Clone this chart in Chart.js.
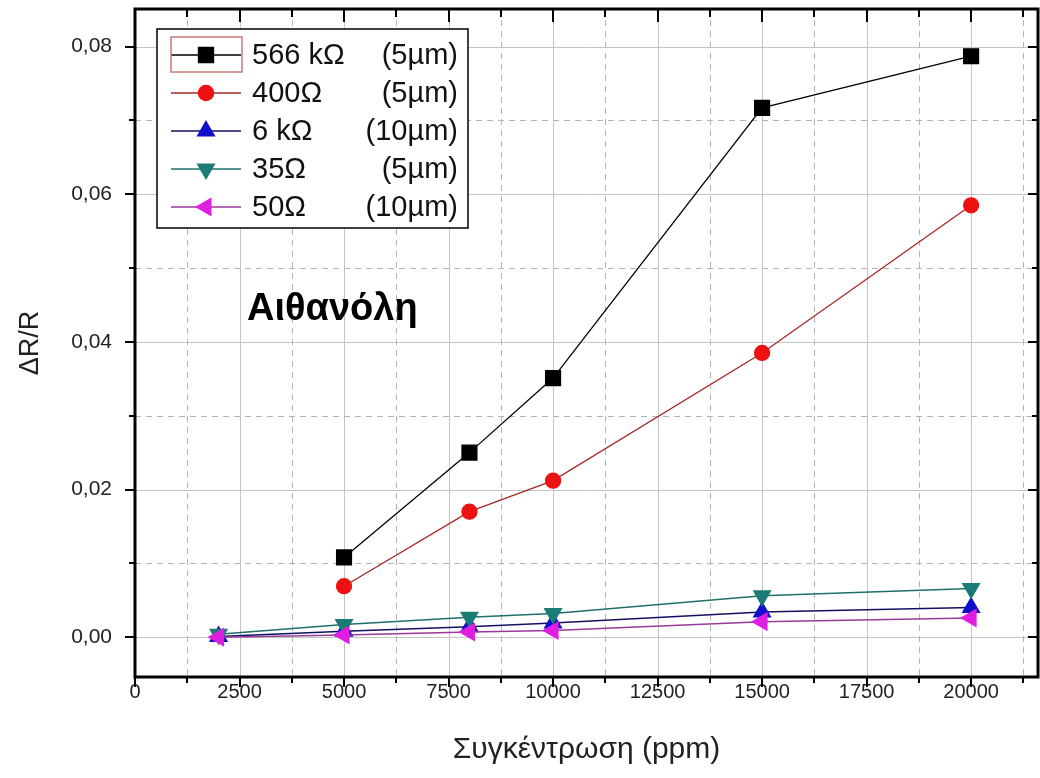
<!DOCTYPE html>
<html lang="el">
<head>
<meta charset="UTF-8">
<title>ΔR/R – Αιθανόλη</title>
<script src="https://cdn.jsdelivr.net/npm/chart.js"></script>
<style>
  html, body { margin: 0; padding: 0; background: #fff; }
</style>
</head>
<body>
<canvas id="sensorChart" width="1040" height="778"></canvas>
<script>
// concentration steps (ppm)
const concAll = [2000, 5000, 8000, 10000, 15000, 20000];
const concHigh = [5000, 8000, 10000, 15000, 20000];

// ΔR/R per sensor
const r566k = [0.0108, 0.0250, 0.0351, 0.0717, 0.0787];
const r400 = [0.0069, 0.0170, 0.0212, 0.0385, 0.0585];
const r6k = [0.0001, 0.0008, 0.0014, 0.0019, 0.0034, 0.0040];
const r35 = [0.0004, 0.0017, 0.0027, 0.0032, 0.0056, 0.0066];
const r50 = [0.0000, 0.0003, 0.0007, 0.0009, 0.0021, 0.0026];

const sensorNames = ['566 kΩ', '400Ω', '6 kΩ', '35Ω', '50Ω'];
const sensorWidths = ['(5µm)', '(5µm)', '(10µm)', '(5µm)', '(10µm)'];

// axis ticks
const xMajor = [0, 2500, 5000, 7500, 10000, 12500, 15000, 17500, 20000];
const xMinor = [1250, 3750, 6250, 8750, 11250, 13750, 16250, 18750, 21250];
const yMajor = [0, 0.02, 0.04, 0.06, 0.08];
const yMinor = [0.01, 0.03, 0.05, 0.07];

const FONT = "'Liberation Sans', Arial, sans-serif";

const pairs = (xs, ys) => xs.map((x, i) => ({ x: x, y: ys[i] }));
const asTicks = (a, b) => a.concat(b).sort((p, q) => p - q).map(v => ({ value: v }));

function pointStyleOf(ds) {
    return {
        pointStyle: ds.pointStyle,
        radius: ds.pointRadius,
        rotation: ds.pointRotation || 0,
        borderWidth: 1
    };
}

// keep the plot box where the layout padding puts it
function noLabelPadding(s) {
    s.paddingTop = 0;
    s.paddingBottom = 0;
    s.paddingLeft = 0;
    s.paddingRight = 0;
}

// grid behind the data: solid at major ticks, dashed at minor ticks
const gridPlugin = {
    id: 'gridPlugin',
    beforeDatasetsDraw(chart) {
        const { ctx, chartArea: a, scales: { x, y } } = chart;
        ctx.save();
        ctx.lineWidth = 1;
        ctx.strokeStyle = '#c4c4c4';
        ctx.setLineDash([]);
        xMajor.forEach(v => {
            const px = Math.round(x.getPixelForValue(v)) + 0.5;
            ctx.beginPath(); ctx.moveTo(px, a.top); ctx.lineTo(px, a.bottom); ctx.stroke();
        });
        yMajor.forEach(v => {
            const py = Math.round(y.getPixelForValue(v)) + 0.5;
            ctx.beginPath(); ctx.moveTo(a.left, py); ctx.lineTo(a.right, py); ctx.stroke();
        });
        ctx.strokeStyle = '#b4b4b4';
        ctx.setLineDash([6, 5]);
        xMinor.forEach(v => {
            const px = Math.round(x.getPixelForValue(v)) + 0.5;
            ctx.beginPath(); ctx.moveTo(px, a.top); ctx.lineTo(px, a.bottom); ctx.stroke();
        });
        yMinor.forEach(v => {
            const py = Math.round(y.getPixelForValue(v)) + 0.5;
            ctx.beginPath(); ctx.moveTo(a.left, py); ctx.lineTo(a.right, py); ctx.stroke();
        });
        ctx.restore();
    }
};

// frame, tick marks, legend box and the label inside the plot
const framePlugin = {
    id: 'framePlugin',
    afterDatasetsDraw(chart) {
        const { ctx, chartArea: a, scales: { x, y } } = chart;
        ctx.save();
        ctx.strokeStyle = '#000';
        ctx.lineWidth = 3;
        ctx.setLineDash([]);
        ctx.strokeRect(a.left, a.top, a.right - a.left, a.bottom - a.top);

        ctx.lineWidth = 2;
        const tick = (x1, y1, x2, y2) => {
            ctx.beginPath(); ctx.moveTo(x1, y1); ctx.lineTo(x2, y2); ctx.stroke();
        };
        xMajor.forEach(v => {
            const px = Math.round(x.getPixelForValue(v));
            tick(px, a.bottom, px, a.bottom + 10);
            tick(px, a.top, px, a.top + 13);
        });
        xMinor.forEach(v => {
            const px = Math.round(x.getPixelForValue(v));
            tick(px, a.bottom, px, a.bottom + 6);
            tick(px, a.top, px, a.top + 8);
        });
        yMajor.forEach(v => {
            const py = Math.round(y.getPixelForValue(v));
            tick(a.left - 10, py, a.left, py);
            tick(a.right - 10, py, a.right, py);
        });
        yMinor.forEach(v => {
            const py = Math.round(y.getPixelForValue(v));
            tick(a.left - 6, py, a.left, py);
            tick(a.right - 6, py, a.right, py);
        });

        // legend
        const lx = 157, ly = 29, lw = 311, lh = 199;
        ctx.fillStyle = '#fff';
        ctx.fillRect(lx, ly, lw, lh);
        ctx.lineWidth = 1.5;
        ctx.strokeStyle = '#000';
        ctx.strokeRect(lx, ly, lw, lh);

        ctx.font = '29px ' + FONT;
        ctx.textBaseline = 'middle';
        chart.data.datasets.forEach((ds, i) => {
            const cy = 55 + i * 38;
            ctx.strokeStyle = ds.borderColor;
            ctx.lineWidth = 1.5;
            tick(171, cy, 241, cy);
            ctx.fillStyle = ds.pointBackgroundColor;
            ctx.strokeStyle = ds.pointBorderColor;
            if (Chart.helpers && Chart.helpers.drawPoint) {
                Chart.helpers.drawPoint(ctx, pointStyleOf(ds), 206, cy);
            }
            ctx.fillStyle = '#111';
            ctx.textAlign = 'left';
            ctx.fillText(sensorNames[i], 252, cy + 1);
            ctx.textAlign = 'right';
            ctx.fillText(sensorWidths[i], 458, cy + 1);
        });
        // highlight around the first legend sample
        ctx.strokeStyle = '#c87a7a';
        ctx.lineWidth = 1.5;
        ctx.strokeRect(171, 37, 71, 35);

        ctx.fillStyle = '#000';
        ctx.textAlign = 'left';
        ctx.font = 'bold 38px ' + FONT;
        ctx.fillText('Αιθανόλη', 247, 310);
        ctx.restore();
    }
};

const tickFont = { family: FONT, size: 20 };

new Chart(document.getElementById('sensorChart'), {
    type: 'line',
    data: {
        datasets: [
            {
                label: sensorNames[0], data: pairs(concHigh, r566k), order: 4,
                borderColor: '#000', borderWidth: 1.3,
                pointStyle: 'rect', pointRadius: 10.5, pointRotation: 0,
                pointBackgroundColor: '#000', pointBorderColor: '#000'
            },
            {
                label: sensorNames[1], data: pairs(concHigh, r400), order: 3,
                borderColor: '#a52828', borderWidth: 1.3,
                pointStyle: 'circle', pointRadius: 7.5, pointRotation: 0,
                pointBackgroundColor: '#ee1111', pointBorderColor: '#ee1111'
            },
            {
                label: sensorNames[2], data: pairs(concAll, r6k), order: 2,
                borderColor: '#101060', borderWidth: 1.5,
                pointStyle: 'triangle', pointRadius: 9.5, pointRotation: 0,
                pointBackgroundColor: '#1010cc', pointBorderColor: '#1010cc'
            },
            {
                label: sensorNames[3], data: pairs(concAll, r35), order: 1,
                borderColor: '#1f6f6a', borderWidth: 1.5,
                pointStyle: 'triangle', pointRadius: 9.5, pointRotation: 180,
                pointBackgroundColor: '#1b7b76', pointBorderColor: '#1b7b76'
            },
            {
                label: sensorNames[4], data: pairs(concAll, r50), order: 0,
                borderColor: '#9a3a9a', borderWidth: 1.5,
                pointStyle: 'triangle', pointRadius: 9.5, pointRotation: -90,
                pointBackgroundColor: '#e01ee0', pointBorderColor: '#e01ee0'
            }
        ]
    },
    options: {
        responsive: false,
        animation: false,
        layout: { autoPadding: false, padding: { top: 9, right: 2, left: 0, bottom: 0 } },
        elements: { line: { tension: 0 } },
        scales: {
            x: {
                type: 'linear', min: 0, max: 21600,
                afterBuildTicks: s => { s.ticks = asTicks(xMajor, xMinor); },
                afterFit: s => { s.height = 101; noLabelPadding(s); },
                grid: { display: false, drawTicks: false },
                border: { display: false },
                ticks: {
                    autoSkip: false, maxRotation: 0, padding: 3,
                    color: '#222', font: tickFont,
                    callback: v => xMajor.includes(v) ? String(v) : ''
                },
                title: {
                    display: true, text: 'Συγκέντρωση (ppm)',
                    color: '#222', font: { family: FONT, size: 30 },
                    padding: { top: 0, bottom: 10 }
                }
            },
            y: {
                type: 'linear', min: -0.0054, max: 0.0851,
                afterBuildTicks: s => { s.ticks = asTicks(yMajor, yMinor); },
                afterFit: s => { s.width = 135; noLabelPadding(s); },
                grid: { display: false, drawTicks: false },
                border: { display: false },
                ticks: {
                    autoSkip: false, padding: 23,
                    color: '#222', font: { family: FONT, size: 21 },
                    callback: v => yMajor.includes(v) ? v.toFixed(2).replace('.', ',') : ''
                },
                title: {
                    display: true, text: 'ΔR/R',
                    color: '#222', font: { family: FONT, size: 27 },
                    padding: { top: 14, bottom: 0 }
                }
            }
        },
        plugins: {
            legend: { display: false },
            tooltip: { enabled: false }
        }
    },
    plugins: [gridPlugin, framePlugin]
});
</script>
</body>
</html>
